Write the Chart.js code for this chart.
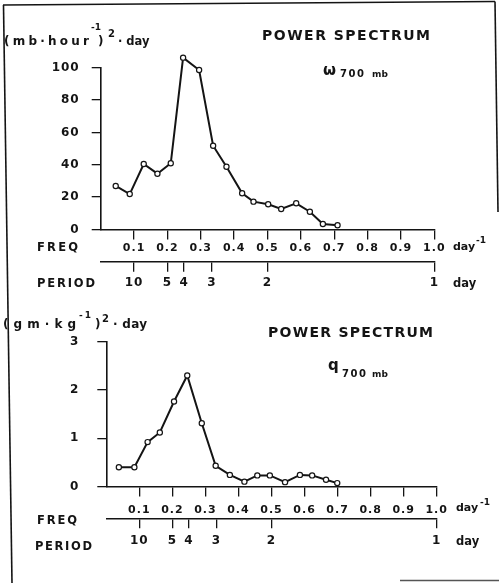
<!DOCTYPE html>
<html><head><meta charset="utf-8">
<script src="https://cdn.jsdelivr.net/npm/chart.js@4.4.0/dist/chart.umd.min.js"></script>
<style>
html,body{margin:0;padding:0;background:#fff;}
#wrap{position:relative;width:499px;height:583px;overflow:hidden;background:#fff;}
canvas{position:absolute;left:0;top:0;}
</style></head><body>
<div id="wrap"><canvas id="c1" width="499" height="583"></canvas><canvas id="c2" width="499" height="583"></canvas></div>
<script>
// ---- data ----
const freqOmega = [0.045,0.087,0.129,0.170,0.210,0.247,0.295,0.337,0.377,0.424,0.458,0.502,0.541,0.586,0.627,0.666,0.710];
const omegaPower = [26.9,21.9,40.5,34.5,40.9,106.2,98.6,51.8,38.8,22.4,17.2,15.6,12.7,16.2,11.0,3.4,2.6];
const freqQ = [0.038,0.085,0.125,0.162,0.205,0.245,0.289,0.331,0.374,0.418,0.457,0.495,0.541,0.586,0.623,0.665,0.699];
const qPower = [0.40,0.40,0.92,1.12,1.76,2.30,1.31,0.43,0.24,0.10,0.23,0.23,0.09,0.24,0.23,0.14,0.07];
const freqTicks = [0.1,0.2,0.3,0.4,0.5,0.6,0.7,0.8,0.9,1.0];
const freqTickLabels = ['0.1','0.2','0.3','0.4','0.5','0.6','0.7','0.8','0.9','1.0'];
const periodDays = [10,5,4,3,2,1];
const periodLabels = ['10','5','4','3','2','1'];
const omegaYTicks = [0,20,40,60,80,100];
const omegaYLabels = ['0','20','40','60','80','100'];
const qYTicks = [0,1,2,3];
const qYLabels = ['0','1','2','3'];

const INK = '#141414';
const FAM = '"DejaVu Sans", sans-serif';

function txt(ctx, text, x, y, size, w) {
  ctx.save();
  ctx.font = 'bold ' + size + 'px ' + FAM;
  ctx.letterSpacing = '0px';
  ctx.fillStyle = INK;
  ctx.textAlign = 'left';
  ctx.textBaseline = 'alphabetic';
  if (w) {
    const n = [...text].length;
    const m = ctx.measureText(text).width;
    if (n > 1) ctx.letterSpacing = Math.max(0, (w - m) / (n - 1)).toFixed(2) + 'px';
  }
  ctx.fillText(text, x, y);
  ctx.restore();
}
function line(ctx, pts, w, col) {
  ctx.save();
  ctx.strokeStyle = col || INK; ctx.lineWidth = w;
  ctx.beginPath(); ctx.moveTo(pts[0][0], pts[0][1]);
  for (let i = 1; i < pts.length; i++) ctx.lineTo(pts[i][0], pts[i][1]);
  ctx.stroke(); ctx.restore();
}

function makeChart(canvas, cfg) {
  const g = cfg.geom;
  const tickFont = {family: FAM, size: 12, weight: 'bold'};
  const xFont = {family: FAM, size: 11, weight: 'bold'};
  return new Chart(canvas, {
    type: 'scatter',
    data: {datasets: [{
      data: cfg.xs.map((x, i) => ({x: x, y: cfg.ys[i]})),
      showLine: true, borderColor: INK, borderWidth: 2, tension: 0,
      pointRadius: 2.6, pointBackgroundColor: '#fff', pointBorderColor: INK, pointBorderWidth: 1.2,
      clip: false
    }]},
    options: {
      responsive: false, animation: false, devicePixelRatio: 1,
      events: [],
      layout: {padding: {left: 0, right: g.pr, top: g.pt, bottom: g.pb}},
      plugins: {legend: {display: false}, tooltip: {enabled: false}, title: {display: false}},
      scales: {
        x: {
          type: 'linear', position: 'bottom', min: 0, max: 1,
          afterBuildTicks: s => { s.ticks = freqTicks.map(v => ({value: v})); },
          afterFit: s => { s.height = g.x1h; },
          ticks: {callback: (v, i) => freqTickLabels[i], font: xFont, color: INK, padding: g.x1pad, maxRotation: 0, autoSkip: false},
          grid: {drawOnChartArea: false, drawTicks: true, tickLength: 10, color: INK, lineWidth: 1.3},
          border: {display: true, color: INK, width: 1.6}
        },
        x2: {
          type: 'linear', position: 'bottom', min: 0, max: 1,
          afterBuildTicks: s => { s.ticks = periodDays.map(d => ({value: 1 / d})); },
          afterFit: s => { s.height = 40; },
          ticks: {callback: (v, i) => periodLabels[i], font: tickFont, color: INK, padding: g.x2pad, maxRotation: 0, autoSkip: false},
          grid: {drawOnChartArea: false, drawTicks: true, tickLength: 10, color: INK, lineWidth: 1.3},
          border: {display: true, color: INK, width: 1.6}
        },
        y: {
          type: 'linear', position: 'left', min: 0, max: cfg.yMax,
          afterBuildTicks: s => { s.ticks = cfg.yTicks.map(v => ({value: v})); },
          afterFit: s => { s.width = g.yw; },
          ticks: {callback: (v, i) => cfg.yLabels[i], font: tickFont, color: INK, padding: g.ypad},
          grid: {drawOnChartArea: false, drawTicks: true, tickLength: 9, color: INK, lineWidth: 1.3},
          border: {display: true, color: INK, width: 1.6}
        }
      }
    },
    plugins: [{
      id: 'deco',
      beforeDraw: c => { c.ctx.letterSpacing = '1px'; },
      beforeDatasetsDraw: c => {
        // let markers above the axis top (values > max) still be drawn
        c._realArea = c.chartArea;
        c.chartArea = Object.assign({}, c.chartArea, {top: 0});
      },
      afterDatasetsDraw: c => { if (c._realArea) { c.chartArea = c._realArea; c._realArea = null; } },
      afterDraw: c => { c.ctx.letterSpacing = '0px'; cfg.deco(c.ctx); }
    }]
  });
}

makeChart(document.getElementById('c1'), {
  xs: freqOmega, ys: omegaPower, yMax: 100, yTicks: omegaYTicks, yLabels: omegaYLabels,
  geom: {pt: 67.7, pb: 583 - 229.5 - 32.2 - 40, pr: 499 - 434.3, yw: 100.7, x1h: 32.2, x1pad: 2, x2pad: 4, ypad: 12},
  deco: ctx => {
    // frame
    line(ctx, [[3.5, 5], [12, 583]], 1.6);
    line(ctx, [[3, 5], [495, 1.5]], 1.6);
    line(ctx, [[495, 1.5], [498, 212]], 1.6);
    line(ctx, [[400, 580.5], [499, 580.5]], 1.4, '#555');
    // y title
    txt(ctx, '(mb\u00B7hour', 4, 45, 12, 85);
    txt(ctx, '-1', 91, 30, 9, 10);
    txt(ctx, ')', 98, 45, 12);
    txt(ctx, '2', 108, 37, 10);
    txt(ctx, '\u00B7 day', 118, 45, 11.5);
    // title
    txt(ctx, 'POWER SPECTRUM', 262, 40, 14, 168);
    txt(ctx, '\u03C9', 323, 75, 15);
    txt(ctx, '700', 340, 77, 10, 24);
    txt(ctx, 'mb', 372, 77, 9, 16);
    // axis labels
    txt(ctx, 'FREQ', 37, 251, 11.5, 41);
    txt(ctx, 'day', 453, 250, 11);
    txt(ctx, '-1', 476, 243, 9);
    txt(ctx, 'PERIOD', 37, 287, 11.5, 58);
    txt(ctx, 'day', 453, 287, 11.5);
  }
});

makeChart(document.getElementById('c2'), {
  xs: freqQ, ys: qPower, yMax: 3, yTicks: qYTicks, yLabels: qYLabels,
  geom: {pt: 341.7, pb: 583 - 486.5 - 31.8 - 40, pr: 499 - 436.7, yw: 106.3, x1h: 31.8, x1pad: 7, x2pad: 5, ypad: 18},
  deco: ctx => {
    txt(ctx, '(gm\u00B7kg', 3, 328, 12, 73);
    txt(ctx, '-1', 79, 318, 9, 12);
    txt(ctx, ')', 95, 328, 12);
    txt(ctx, '2', 102, 322, 10);
    txt(ctx, '\u00B7 day', 113, 328, 12, 34);
    txt(ctx, 'POWER SPECTRUM', 268, 337, 14, 165);
    txt(ctx, 'q', 328, 370, 15);
    txt(ctx, '700', 342, 377, 10, 24);
    txt(ctx, 'mb', 372, 377, 9, 16);
    txt(ctx, 'FREQ', 37, 524, 11.5, 40);
    txt(ctx, 'day', 456, 511, 11);
    txt(ctx, '-1', 480, 505, 9);
    txt(ctx, 'PERIOD', 35, 550, 11.5, 57);
    txt(ctx, 'day', 456, 545, 11.5);
  }
});
</script>
</body></html>
